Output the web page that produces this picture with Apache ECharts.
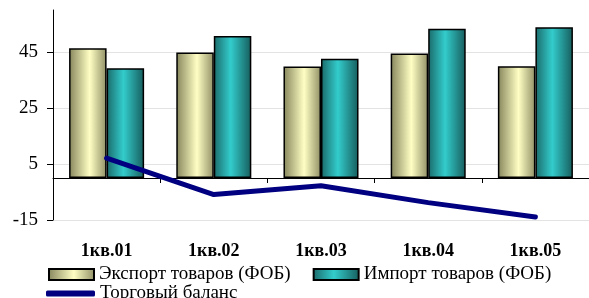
<!DOCTYPE html>
<html>
<head>
<meta charset="utf-8">
<script src="https://cdn.jsdelivr.net/npm/echarts@6/dist/echarts.min.js"></script>
<style>
  html, body { margin: 0; padding: 0; background: #fff; }
  #chart { width: 589px; height: 298px; }
</style>
</head>
<body>
<div id="chart"></div>
<script>
// данные
var quarters = ['1кв.01', '1кв.02', '1кв.03', '1кв.04', '1кв.05'];
var exportFob = [46.3, 44.8, 39.8, 44.5, 39.9];
var importFob = [39.2, 50.7, 42.6, 53.3, 53.8];
var tradeBalance = [7.1, -5.9, -2.8, -8.8, -13.9];
var yTicks = [-15, 5, 25, 45];

var serif = '"Liberation Serif", "DejaVu Serif", serif';

var exportGrad = new echarts.graphic.LinearGradient(0, 0, 1, 0, [
  { offset: 0, color: '#85855c' },
  { offset: 0.55, color: '#ffffc4' },
  { offset: 1, color: '#8f8f66' }
]);
var importGrad = new echarts.graphic.LinearGradient(0, 0, 1, 0, [
  { offset: 0, color: '#1b6a6a' },
  { offset: 0.45, color: '#33cccc' },
  { offset: 1, color: '#175c5c' }
]);

var chart = echarts.init(document.getElementById('chart'));
var option = {
  animation: false,
  grid: { left: 53, right: 0, top: 10, bottom: 78, containLabel: false },
  xAxis: [
    {
      type: 'category',
      data: quarters,
      axisLine: { show: false, onZero: false },
      axisTick: { show: false },
      axisLabel: {
        margin: 22,
        fontFamily: serif,
        fontWeight: 'bold',
        fontSize: 18,
        color: '#000'
      }
    },
    {
      // линия оси X по нулю
      type: 'category',
      data: quarters,
      position: 'bottom',
      axisLine: { show: true, onZero: true, lineStyle: { color: '#000', width: 1 } },
      axisTick: { show: true, length: 5, lineStyle: { color: '#000' } },
      axisLabel: { show: false }
    }
  ],
  yAxis: {
    type: 'value',
    min: -15,
    max: 60,
    interval: 20,
    axisLine: { show: true, lineStyle: { color: '#000', width: 1 } },
    axisTick: { show: true, length: 6, customValues: yTicks, lineStyle: { color: '#000' } },
    splitLine: { show: true, lineStyle: { color: '#e3e3e3', width: 1 } },
    axisLabel: {
      customValues: yTicks,
      margin: 15,
      fontFamily: serif,
      fontSize: 19,
      color: '#000'
    }
  },
  legend: [
    {
      left: 48,
      top: 265,
      padding: 0,
      itemWidth: 45,
      itemHeight: 11,
      itemGap: 22,
      icon: 'rect',
      textStyle: { fontFamily: serif, fontSize: 19, color: '#000' },
      data: ['Экспорт товаров (ФОБ)', 'Импорт товаров (ФОБ)']
    },
    {
      left: 46,
      top: 284,
      padding: 0,
      itemWidth: 49,
      itemHeight: 6,
      textStyle: { fontFamily: serif, fontSize: 19, color: '#000' },
      data: [{ name: 'Торговый баланс', icon: 'roundRect', itemStyle: { color: '#000080' } }]
    }
  ],
  series: [
    {
      name: 'Экспорт товаров (ФОБ)',
      type: 'bar',
      data: exportFob,
      barGap: 0,
      barCategoryGap: '30%',
      itemStyle: { color: exportGrad, borderColor: '#000', borderWidth: 1.5 }
    },
    {
      name: 'Импорт товаров (ФОБ)',
      type: 'bar',
      data: importFob,
      itemStyle: { color: importGrad, borderColor: '#000', borderWidth: 1.5 }
    },
    {
      name: 'Торговый баланс',
      type: 'line',
      data: tradeBalance,
      showSymbol: false,
      symbol: 'none',
      lineStyle: { color: '#000080', width: 5, cap: 'round', join: 'round' },
      itemStyle: { color: '#000080' },
      z: 5
    }
  ]
};
chart.setOption(option);
</script>
</body>
</html>
